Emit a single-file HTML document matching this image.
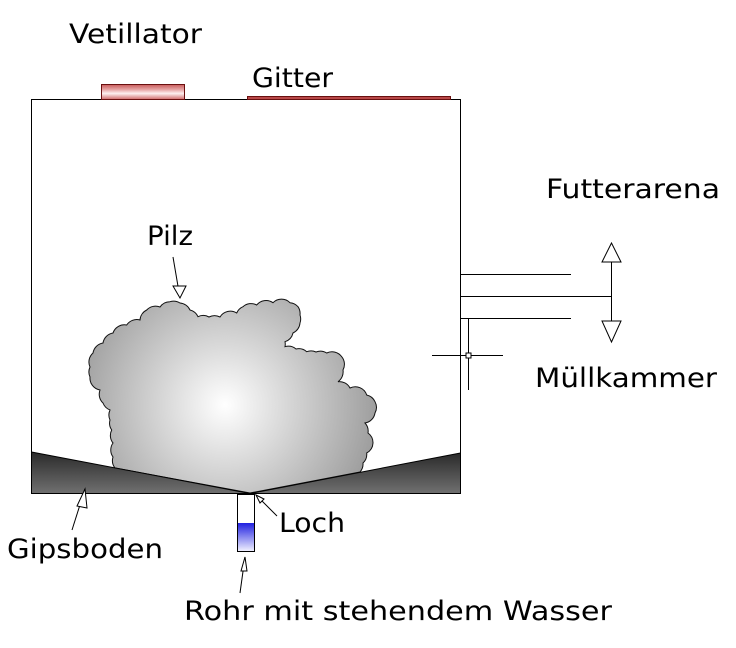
<!DOCTYPE html>
<html><head><meta charset="utf-8"><style>
html,body{margin:0;padding:0;background:#fff;}
svg{display:block;}
text{font-family:"DejaVu Sans","Liberation Sans",sans-serif;font-size:27px;fill:#000;}
</style></head><body>
<svg width="736" height="648" viewBox="0 0 736 648" xmlns="http://www.w3.org/2000/svg">
<defs>
<linearGradient id="fan" x1="0" y1="0" x2="0" y2="1">
<stop offset="0" stop-color="#c85a5a"/><stop offset="0.35" stop-color="#e8a8a8"/><stop offset="0.6" stop-color="#fdf0f0"/><stop offset="1" stop-color="#d06a6a"/>
</linearGradient>
<linearGradient id="gips" x1="0" y1="0" x2="0" y2="1">
<stop offset="0" stop-color="#2a2a2a"/><stop offset="1" stop-color="#707070"/>
</linearGradient>
<linearGradient id="water" x1="0" y1="0" x2="0" y2="1">
<stop offset="0" stop-color="#2020e0"/><stop offset="1" stop-color="#f0f0ff"/>
</linearGradient>
<radialGradient id="pilz" gradientUnits="userSpaceOnUse" cx="225" cy="405" r="155">
<stop offset="0" stop-color="#ffffff"/><stop offset="1" stop-color="#9c9c9c"/>
</radialGradient>
</defs>

<!-- box -->
<rect x="31.5" y="99.5" width="429" height="394" fill="#fff" stroke="#000" stroke-width="1"/>

<!-- fan & grid -->
<rect x="101.5" y="84.5" width="83" height="15" fill="url(#fan)" stroke="#6a1010" stroke-width="1"/>
<rect x="247.5" y="96.5" width="203" height="3" fill="#b84848" stroke="#6a1010" stroke-width="1"/>

<!-- fungus -->
<path fill="url(#pilz)" stroke="#111" stroke-width="1" d="M115,468
A12,12 0 0 1 113,457 A12,12 0 0 1 113,443 A12,12 0 0 1 111.7,430 A12,12 0 0 1 110,420 A12,12 0 0 1 110,410
A12,12 0 0 1 103,403 A12,12 0 0 1 100,390 A12,12 0 0 1 90,377 A12,12 0 0 1 90,367 A12,12 0 0 1 93,353
A12,12 0 0 1 103,343 A12,12 0 0 1 113,333 A12,12 0 0 1 126.7,325 A12,12 0 0 1 140,320 A12,12 0 0 1 146.7,310
A12,12 0 0 1 160,307 A12,12 0 0 1 170,301.7 A12,12 0 0 1 180,303 A12,12 0 0 1 190,310 A12,12 0 0 1 198,316.7
A12,12 0 0 1 209,317 A12,12 0 0 1 220,317 A12,12 0 0 1 236.7,313 A12,12 0 0 1 243,306.7 A12,12 0 0 1 256.7,305
A12,12 0 0 1 273,302.7 A12,12 0 0 1 290,302.7 A12,12 0 0 1 298,306.7 A12,12 0 0 1 300,315 A12,12 0 0 1 300,323
A12,12 0 0 1 293,333 A12,12 0 0 1 285,341.7 A12,12 0 0 1 285,346.7 A12,12 0 0 1 296,349 A12,12 0 0 1 306.7,351.7
A12,12 0 0 1 316,352 A12,12 0 0 1 326.7,353 A12,12 0 0 1 341.7,356.7 A12,12 0 0 1 343,370 A12,12 0 0 1 338,381.7
A12,12 0 0 1 350,388 A12,12 0 0 1 366.7,395 A12,12 0 0 1 375,401.7 A12,12 0 0 1 375,413 A12,12 0 0 1 365,423
A12,12 0 0 1 368,433 A12,12 0 0 1 373,443 A12,12 0 0 1 366.7,453 A12,12 0 0 1 363,463 A12,12 0 0 1 360,472
L250,493 Z"/>

<!-- gips floor -->
<polygon points="31.5,452 250,493.5 31.5,493.5" fill="url(#gips)" stroke="#000" stroke-width="1"/>
<polygon points="460.5,453 250,493.5 460.5,493.5" fill="url(#gips)" stroke="#000" stroke-width="1"/>
<line x1="31" y1="493.5" x2="461" y2="493.5" stroke="#000"/>

<!-- tube -->
<rect x="237.5" y="494.5" width="17" height="57" fill="#fff" stroke="#000" stroke-width="1"/>
<rect x="238" y="523" width="16" height="28" fill="url(#water)"/>

<!-- right side connectors -->
<g stroke="#000" stroke-width="1" fill="none" shape-rendering="crispEdges">
<line x1="461" y1="274.5" x2="571" y2="274.5"/>
<line x1="461" y1="296.5" x2="611" y2="296.5"/>
<line x1="461" y1="318.5" x2="571" y2="318.5"/>
<line x1="611.5" y1="243" x2="611.5" y2="342"/>
<line x1="468.5" y1="318" x2="468.5" y2="390"/>
<line x1="432" y1="355.5" x2="503" y2="355.5"/>
</g>
<rect x="466" y="353" width="5" height="5" fill="#fff" stroke="#000" stroke-width="1"/>
<polygon points="611.5,243 602,262 621,262" fill="#fff" stroke="#000" stroke-width="1"/>
<polygon points="611.5,342 602,321 621,321" fill="#fff" stroke="#000" stroke-width="1"/>

<!-- label arrows -->
<g stroke="#000" stroke-width="1" fill="#fff">
<line x1="173" y1="257" x2="180" y2="298"/>
<polygon points="180,298 173,286 186,286"/>
<line x1="72" y1="530" x2="85" y2="489"/>
<polygon points="85,489 77,506 87,508"/>
<line x1="277" y1="516" x2="256" y2="495"/>
<polygon points="256,495 264,499 260,503"/>
<line x1="240" y1="593" x2="245" y2="557"/>
<polygon points="245,557 241,571 247,571"/>
</g>

<!-- labels -->
<text x="69" y="43" textLength="133" lengthAdjust="spacingAndGlyphs">Vetillator</text>
<text x="252" y="87" textLength="81" lengthAdjust="spacingAndGlyphs">Gitter</text>
<text x="546" y="198" textLength="174" lengthAdjust="spacingAndGlyphs">Futterarena</text>
<text x="147" y="245" textLength="46" lengthAdjust="spacingAndGlyphs">Pilz</text>
<text x="535" y="387" textLength="182" lengthAdjust="spacingAndGlyphs">Müllkammer</text>
<text x="279" y="532" textLength="66" lengthAdjust="spacingAndGlyphs">Loch</text>
<text x="7" y="558" textLength="156" lengthAdjust="spacingAndGlyphs">Gipsboden</text>
<text x="184" y="620" textLength="428" lengthAdjust="spacingAndGlyphs">Rohr mit stehendem Wasser</text>
</svg>
</body></html>
